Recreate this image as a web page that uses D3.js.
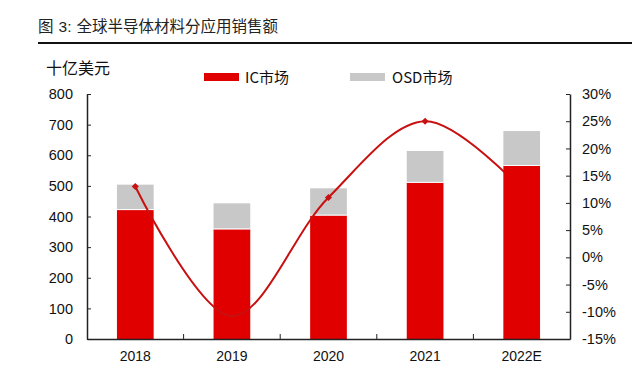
<!DOCTYPE html>
<html>
<head>
<meta charset="utf-8">
<script src="https://cdn.jsdelivr.net/npm/d3@7"></script>
<style>
	body { margin: 0; background: #fff; }
	svg { display: block; font-family: "Liberation Sans", Arial, "Noto Sans CJK SC", sans-serif; }
</style>
</head>
<body>
<svg id="chart" width="640" height="376"></svg>
<script>
"use strict";

// values (billion USD, growth in %)
var years   = ["2018", "2019", "2020", "2021", "2022E"];
var icSales = [421, 358, 403, 510, 565];
var osdSales = [83, 85, 89, 104, 114];
var growth  = [13, -10.8, 11, 25, 12.5];

var leftTicks  = [0, 100, 200, 300, 400, 500, 600, 700, 800];
var rightTicks = [-15, -10, -5, 0, 5, 10, 15, 20, 25, 30];

var cjk = '"Noto Sans CJK SC", sans-serif';
var latin = '"Liberation Sans", Arial, sans-serif';
var red = "#e00000", grey = "#c8c8c8", lineRed = "#c81010";

var svg = d3.select("#chart");

// title and rule
var title = svg.append("text")
	.attr("x", 38).attr("y", 32)
	.style("font-size", "15.5px").attr("fill", "#222");
title.append("tspan").style("font-family", cjk).text("图");
title.append("tspan").attr("dx", 5).style("font-family", latin).text("3:");
title.append("tspan").attr("dx", 5).style("font-family", cjk).text("全球半导体材料分应用销售额");
svg.append("line")
	.attr("x1", 38).attr("x2", 632).attr("y1", 43).attr("y2", 43)
	.attr("stroke", "#111").attr("stroke-width", 2);

svg.append("text")
	.attr("x", 46).attr("y", 74)
	.style("font-family", cjk).style("font-size", "16px").attr("fill", "#111")
	.text("十亿美元");

// legend
var legend = [["IC市场", red, 204, 245], ["OSD市场", grey, 350, 392]];
for (let l of legend) {
	svg.append("rect").attr("x", l[2]).attr("y", 73).attr("width", 35).attr("height", 8).attr("fill", l[1]);
	svg.append("text").attr("x", l[3]).attr("y", 83)
		.style("font-family", cjk).style("font-size", "15px").attr("fill", "#111")
		.text(l[0]);
}

// scales
var x = d3.scaleBand().domain(years).range([87, 570]).paddingInner(0.62).paddingOuter(0.31);
var xStep = d3.scaleBand().domain(years).range([87, 570]);
var yL = d3.scaleLinear().domain([0, 800]).range([339, 94]);
var yR = d3.scaleLinear().domain([-15, 30]).range([339, 94]);

function drawBar(g, i) {
	let yr = years[i], ic = icSales[i], osd = osdSales[i];
	g.append("rect")
		.attr("x", x(yr)).attr("width", x.bandwidth())
		.attr("y", yL(ic + osd)).attr("height", yL(ic) - yL(ic + osd))
		.attr("fill", grey);
	g.append("rect")
		.attr("x", x(yr)).attr("width", x.bandwidth())
		.attr("y", yL(ic)).attr("height", yL(0) - yL(ic))
		.attr("fill", red);
	g.append("line")
		.attr("x1", x(yr)).attr("x2", x(yr) + x.bandwidth())
		.attr("y1", yL(ic) - 0.5).attr("y2", yL(ic) - 0.5)
		.attr("stroke", "#fff").attr("stroke-width", 1);
}

// bars (the last one sits over the line, as in the original)
var bars = svg.append("g");
for (let i = 0; i < years.length - 1; i++) drawBar(bars, i);

// growth line
var pts = years.map((yr, i)=>[x(yr) + x.bandwidth() / 2, yR(growth[i])]);
svg.append("path")
	.datum(pts)
	.attr("d", d3.line().curve(d3.curveCatmullRom.alpha(0.5)))
	.attr("fill", "none").attr("stroke", lineRed).attr("stroke-width", 2);
svg.selectAll(".marker").data(pts.filter((d, i)=>i != 1 && i != 4)).enter()
	.append("rect").classed("marker", true)
	.attr("x", d=>d[0] - 2.5).attr("y", d=>d[1] - 2.5)
	.attr("width", 5).attr("height", 5)
	.attr("transform", d=>`rotate(45,${d[0]},${d[1]})`)
	.attr("fill", lineRed);

drawBar(svg.append("g"), years.length - 1);

// axes
var axStyle = g=>{
	g.select(".domain").attr("stroke", "#222").attr("stroke-width", 1.5);
	g.selectAll(".tick line").attr("stroke", "#222");
	g.selectAll("text").attr("fill", "#111").style("font-size", "14.5px")
		.style("font-family", latin);
};

svg.append("g")
	.attr("transform", "translate(87,0)")
	.call(d3.axisLeft(yL).tickValues(leftTicks).tickSize(-4).tickSizeOuter(0).tickPadding(14))
	.call(axStyle);

svg.append("g")
	.attr("transform", "translate(570,0)")
	.call(d3.axisRight(yR).tickValues(rightTicks).tickSize(-4).tickSizeOuter(0).tickPadding(12)
		.tickFormat(d=>d + "%"))
	.call(axStyle);

var xAxis = svg.append("g")
	.attr("transform", "translate(0,339)")
	.call(d3.axisBottom(x).tickSize(0).tickSizeOuter(0).tickPadding(12))
	.call(axStyle);
xAxis.selectAll("text").style("font-size", "14px");
// category separators
svg.append("g").selectAll("line").data(years.slice(1)).enter()
	.append("line")
	.attr("x1", d=>xStep(d)).attr("x2", d=>xStep(d))
	.attr("y1", 339).attr("y2", 334)
	.attr("stroke", "#222");
</script>
</body>
</html>
